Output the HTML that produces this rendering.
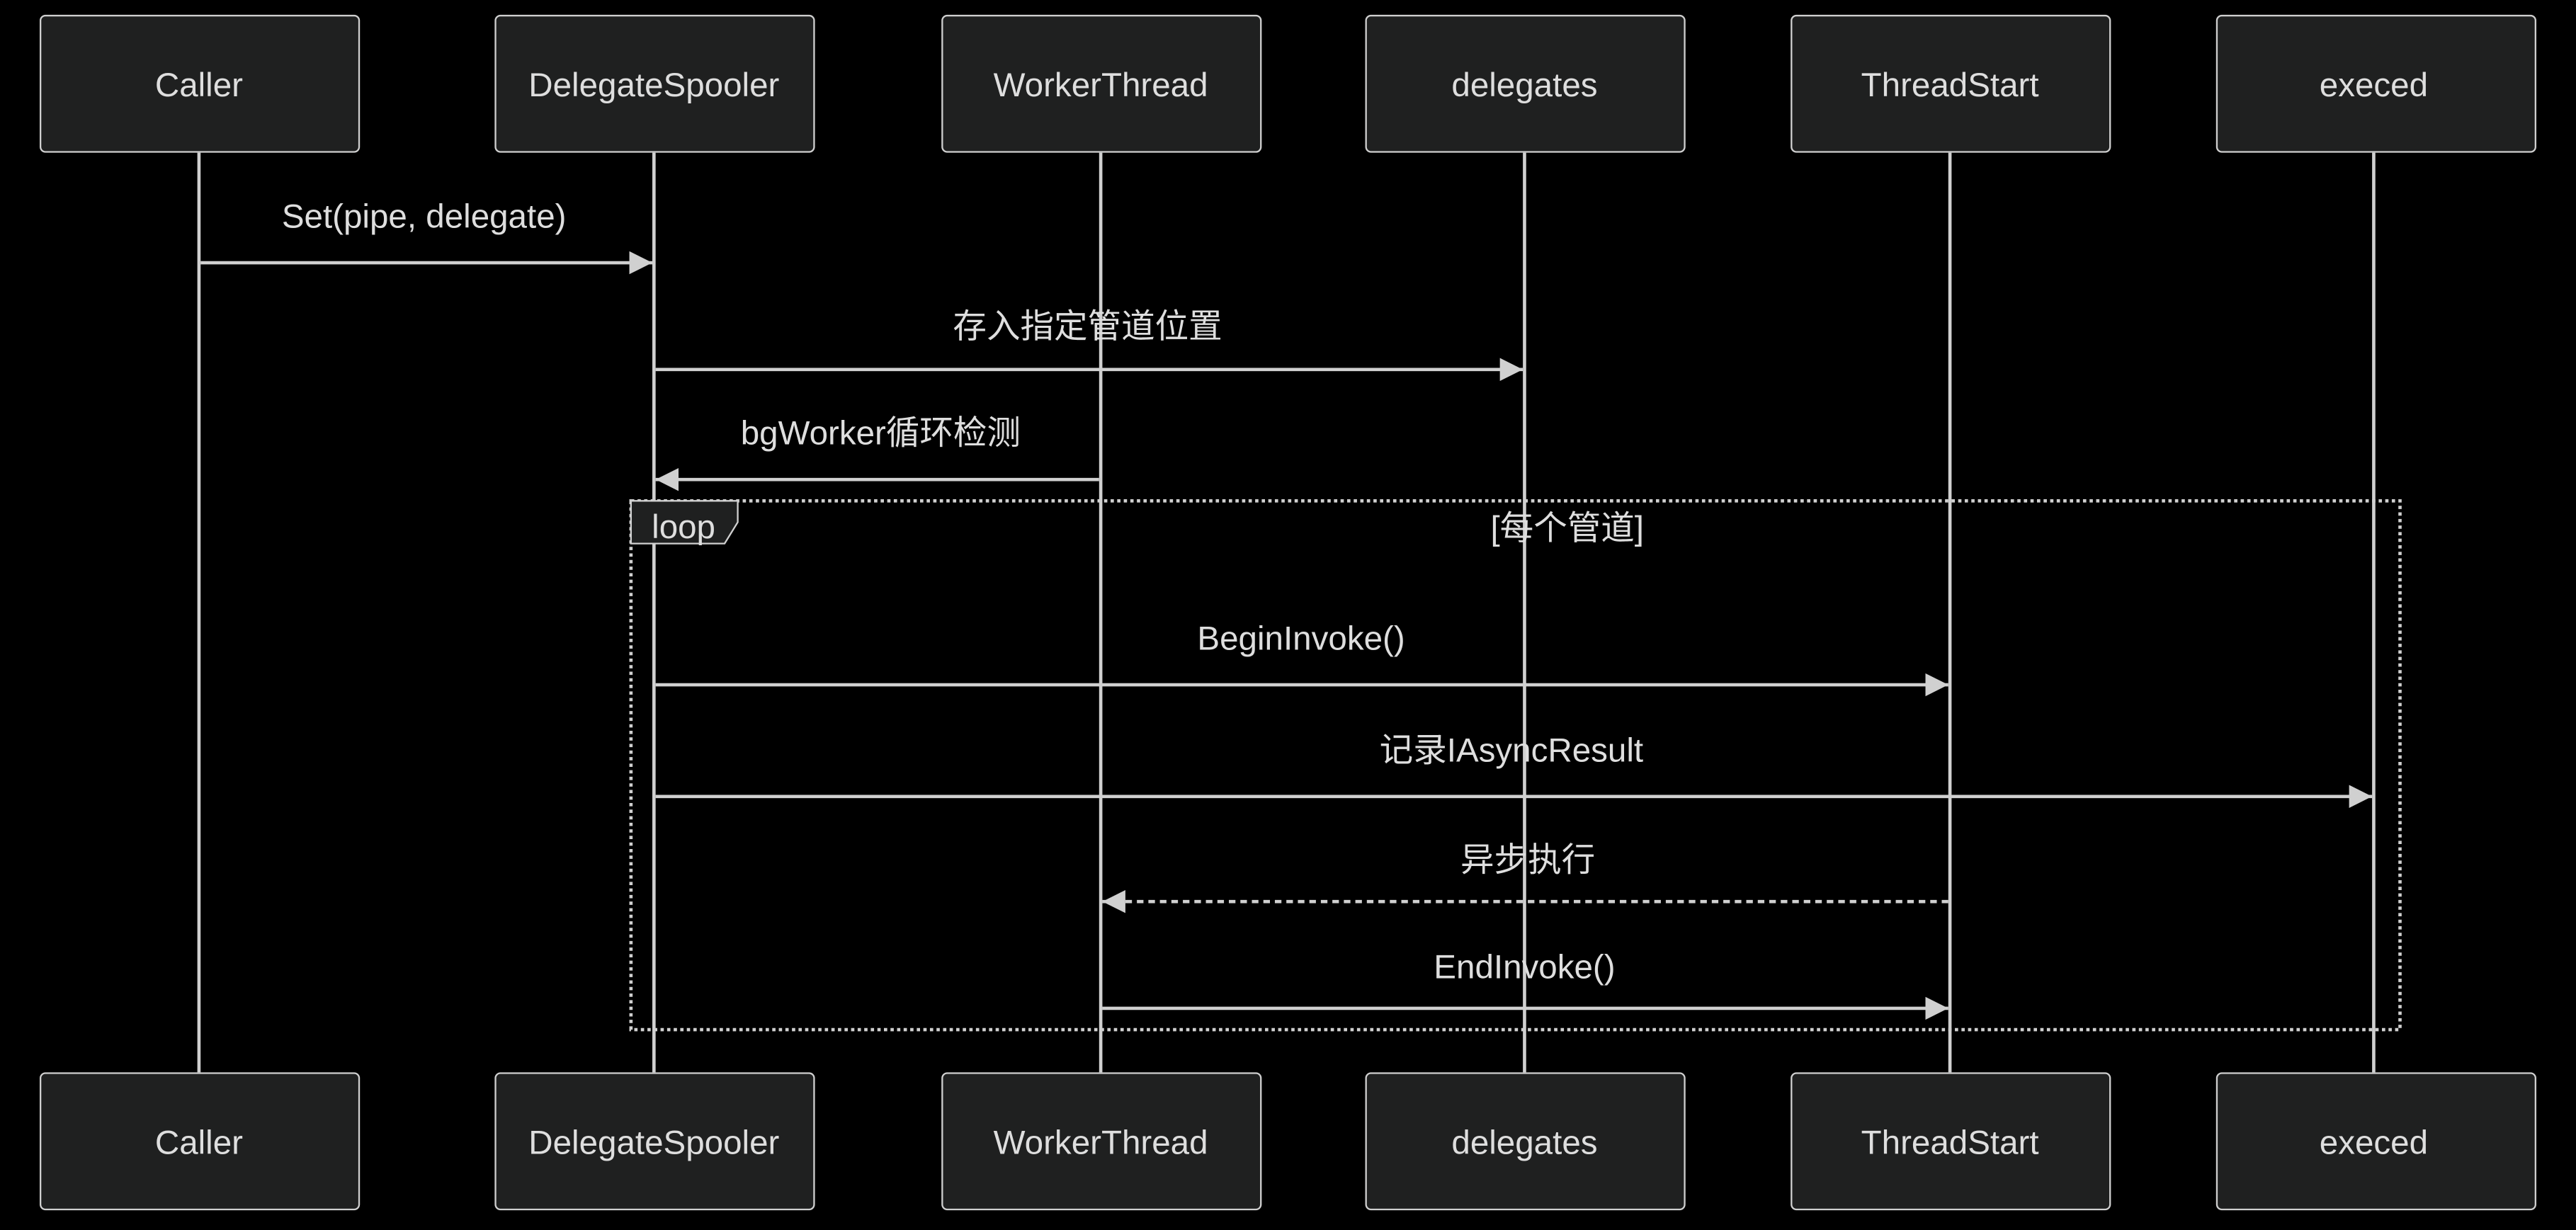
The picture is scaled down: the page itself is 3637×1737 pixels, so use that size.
<!DOCTYPE html>
<html><head><meta charset="utf-8"><style>html,body{margin:0;padding:0;background:#000;}svg{display:block}</style></head>
<body>
<svg width="3637" height="1737" viewBox="0 0 1568 749" xmlns="http://www.w3.org/2000/svg" font-family="'Liberation Sans','Noto Sans CJK SC',sans-serif">
<rect width="1568" height="749" fill="#000"/>
<defs>
<marker id="a" markerWidth="14" markerHeight="14" refX="14" refY="7" orient="auto" markerUnits="userSpaceOnUse"><path d="M0,0 L14,7 L0,14 Z" fill="#d0d0d0"/></marker>
</defs>
<g stroke="#d0d0d0" stroke-width="2">
<line x1="121" y1="93" x2="121" y2="653"/>
<line x1="398" y1="93" x2="398" y2="653"/>
<line x1="670" y1="93" x2="670" y2="653"/>
<line x1="928" y1="93" x2="928" y2="653"/>
<line x1="1187" y1="93" x2="1187" y2="653"/>
<line x1="1445" y1="93" x2="1445" y2="653"/>
</g>
<g fill="#1f2020" stroke="#cfcfcf" stroke-width="1">
<rect x="24.5" y="9.5" width="194" height="83" rx="3"/>
<rect x="301.5" y="9.5" width="194" height="83" rx="3"/>
<rect x="573.5" y="9.5" width="194" height="83" rx="3"/>
<rect x="831.5" y="9.5" width="194" height="83" rx="3"/>
<rect x="1090.5" y="9.5" width="194" height="83" rx="3"/>
<rect x="1349.5" y="9.5" width="194" height="83" rx="3"/>
<rect x="24.5" y="653.5" width="194" height="83" rx="3"/>
<rect x="301.5" y="653.5" width="194" height="83" rx="3"/>
<rect x="573.5" y="653.5" width="194" height="83" rx="3"/>
<rect x="831.5" y="653.5" width="194" height="83" rx="3"/>
<rect x="1090.5" y="653.5" width="194" height="83" rx="3"/>
<rect x="1349.5" y="653.5" width="194" height="83" rx="3"/>
</g>
<g fill="#dedede" font-size="20.5" text-anchor="middle" dominant-baseline="central">
<text x="121" y="52">Caller</text><text x="398" y="52">DelegateSpooler</text><text x="670" y="52">WorkerThread</text>
<text x="928" y="52">delegates</text><text x="1187" y="52">ThreadStart</text><text x="1445" y="52">execed</text>
<text x="121" y="696">Caller</text><text x="398" y="696">DelegateSpooler</text><text x="670" y="696">WorkerThread</text>
<text x="928" y="696">delegates</text><text x="1187" y="696">ThreadStart</text><text x="1445" y="696">execed</text>
</g>
<rect x="384" y="305" width="1077" height="322" fill="none" stroke="#d0d0d0" stroke-width="2" stroke-dasharray="2,2"/>
<path d="M384,305 H449 V318 L441,331 H384 Z" fill="#1f2020" stroke="#d0d0d0" stroke-width="1"/>
<g stroke="#d0d0d0" stroke-width="2" fill="none">
<line x1="122" y1="160" x2="397" y2="160" marker-end="url(#a)"/>
<line x1="399" y1="225" x2="927" y2="225" marker-end="url(#a)"/>
<line x1="669" y1="292" x2="399" y2="292" marker-end="url(#a)"/>
<line x1="399" y1="417" x2="1186" y2="417" marker-end="url(#a)"/>
<line x1="399" y1="485" x2="1444" y2="485" marker-end="url(#a)"/>
<line x1="1186" y1="549" x2="671" y2="549" marker-end="url(#a)" stroke-dasharray="4,3"/>
<line x1="671" y1="614" x2="1186" y2="614" marker-end="url(#a)"/>
</g>
<g fill="#dedede" font-size="20.5" text-anchor="middle" dominant-baseline="central">
<text x="258" y="132">Set(pipe, delegate)</text>
<text x="662" y="199">存入指定管道位置</text>
<text x="536" y="264">bgWorker循环检测</text>
<text x="416" y="321">loop</text>
<text x="954" y="322">[每个管道]</text>
<text x="792" y="389">BeginInvoke()</text>
<text x="920" y="457">记录IAsyncResult</text>
<text x="930" y="524">异步执行</text>
<text x="928" y="589">EndInvoke()</text>
</g>
</svg>
</body></html>
